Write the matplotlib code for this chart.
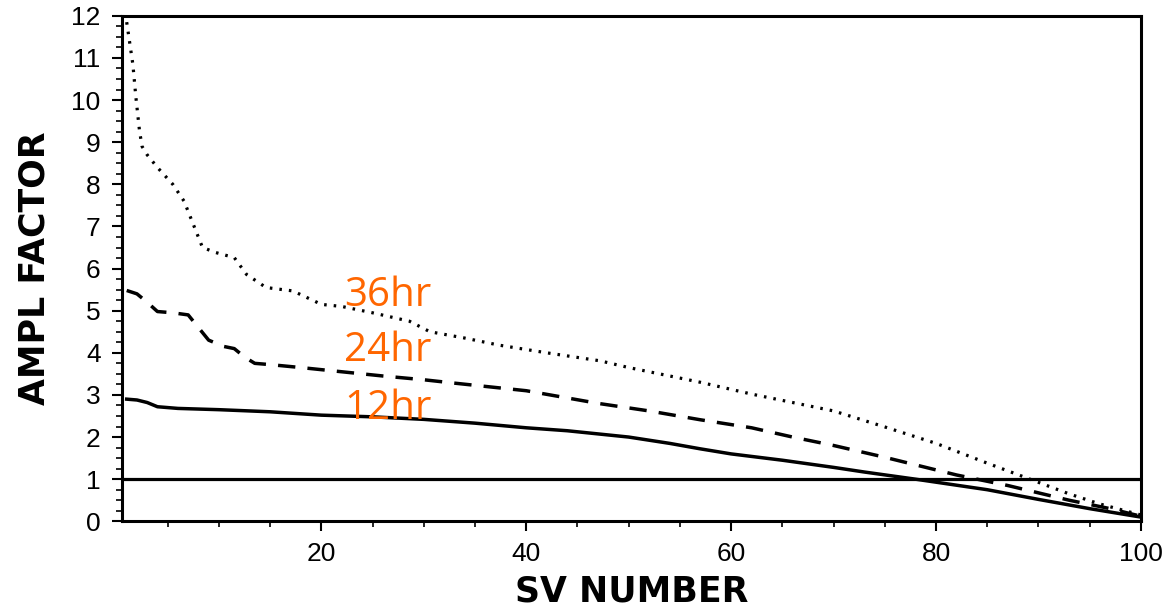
import numpy as np
import matplotlib.pyplot as plt
from matplotlib.ticker import MultipleLocator

# values
x_12 = [1, 2, 3, 4, 6, 10, 15, 20, 25, 30, 35, 40, 44, 50, 54, 57, 60, 65, 70, 73, 78, 85, 90, 95, 100]
y_12 = [2.9, 2.88, 2.82, 2.72, 2.68, 2.65, 2.6, 2.52, 2.48, 2.42, 2.33, 2.22, 2.15, 2.0, 1.85, 1.72,
        1.6, 1.45, 1.28, 1.17, 1.0, 0.75, 0.52, 0.3, 0.1]

x_24 = [1, 2, 3, 4, 5.5, 7, 8, 9, 10.5, 11.5, 12.5, 13.5, 15, 18, 22, 26, 30, 33, 40, 47, 52, 57,
        62, 66, 70, 75, 82, 87, 93, 97, 100]
y_24 = [5.48, 5.4, 5.2, 4.98, 4.95, 4.9, 4.6, 4.3, 4.15, 4.1, 3.9, 3.75, 3.72, 3.65, 3.55, 3.45,
        3.36, 3.28, 3.1, 2.8, 2.62, 2.41, 2.22, 2.0, 1.8, 1.52, 1.1, 0.85, 0.5, 0.3, 0.12]

x_36 = [1, 1.6, 1.9, 2.25, 2.5, 3, 4, 5.5, 6.6, 7.5, 8.4, 9.7, 11.5, 12.7, 14.6, 17.2, 18, 20, 22,
        25, 28.6, 30.6, 34, 37.4, 42, 47.2, 50, 54, 57, 62, 66, 70, 75, 80, 85, 89.5, 93, 96, 100]
y_36 = [11.85, 10.85, 10.06, 9.27, 8.9, 8.7, 8.4, 8.0, 7.6, 7.05, 6.5, 6.38, 6.26, 5.86, 5.55, 5.47,
        5.38, 5.15, 5.1, 4.95, 4.75, 4.5, 4.35, 4.18, 4.0, 3.81, 3.65, 3.45, 3.3, 3.02, 2.82, 2.62,
        2.24, 1.85, 1.38, 0.97, 0.65, 0.41, 0.15]

ref_level = 1.0
labels = ['36hr', '24hr', '12hr']
label_pos = [(22.2, 5.1), (22.2, 3.8), (22.2, 2.42)]

fig = plt.figure(figsize=(11.69, 6.09), dpi=100)
ax = fig.add_axes([0.104, 0.144, 0.872, 0.830])

ax.plot(x_12, y_12, color='black', lw=2.5, ls='-')
ax.plot(x_24, y_24, color='black', lw=2.5, ls=(0, (5.0, 3.5)))
ax.plot(x_36, y_36, color='black', lw=2.3, ls=(0, (0.8, 2.2)))
ax.axhline(ref_level, color='black', lw=2.3)

for txt, (tx, ty) in zip(labels, label_pos):
    ax.text(tx, ty, txt, color='#FF6600', fontsize=29, family=['Open Sans', 'DejaVu Sans'],
            ha='left', va='baseline')

ax.set_xlim(0.5, 100)
ax.set_ylim(0, 12)
ax.xaxis.set_major_locator(MultipleLocator(20))
ax.xaxis.set_minor_locator(MultipleLocator(5))
ax.yaxis.set_major_locator(MultipleLocator(1))
ax.yaxis.set_minor_locator(MultipleLocator(0.25))
ax.set_xticks([20, 40, 60, 80, 100])

for s in ax.spines.values():
    s.set_linewidth(2.2)

ax.tick_params(which='major', direction='out', length=7, width=1.5, labelsize=19, pad=8)
ax.tick_params(which='minor', direction='out', length=4, width=1.2)
for lab in ax.get_xticklabels() + ax.get_yticklabels():
    lab.set_family(['Liberation Sans', 'DejaVu Sans'])

ax.set_xlabel('SV NUMBER', fontsize=25, fontweight='bold', labelpad=6)
ax.set_ylabel('AMPL FACTOR', fontsize=25, fontweight='bold', labelpad=14)

fig.savefig('out.png', dpi=100)
